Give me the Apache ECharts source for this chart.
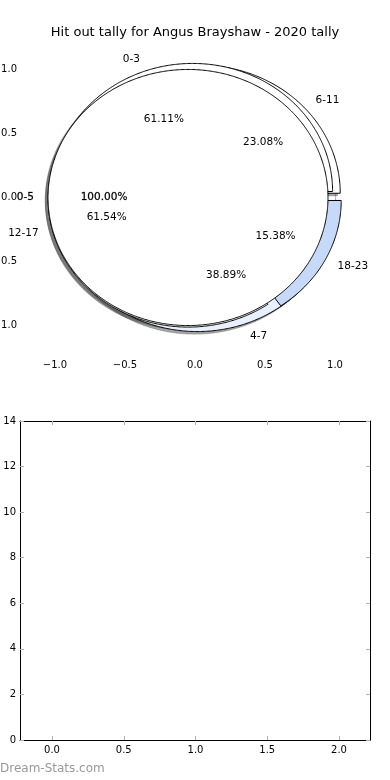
<!DOCTYPE html>
<html>
<head>
<meta charset="utf-8">
<script src="https://cdn.jsdelivr.net/npm/echarts@6/dist/echarts.min.js"></script>
<style>html,body{margin:0;padding:0;background:#fff}#c{width:390px;height:780px}</style>
</head>
<body>
<div id="c"></div>
<script>
// ---- data ----
const titleText = 'Hit out tally for Angus Brayshaw - 2020 tally';
const pieALabels = ['0-3', '4-7'];
const pieAValues = [61.11, 38.89];
const pieBLabels = ['6-11', '12-17', '18-23'];
const pieBValues = [23.08, 61.54, 15.38];
const pieCLabels = ['0-5'];
const pieCValues = [100.00];
const pieTicks = [-1.0, -0.5, 0.0, 0.5, 1.0];
const barYTicks = [0, 2, 4, 6, 8, 10, 12, 14];
const barXTicks = [0.0, 0.5, 1.0, 1.5, 2.0];
const watermark = 'Dream-Stats.com';

// ---- styles ----
const pieColors = {
  '0-3': '#ffffff', '4-7': '#e8effd',
  '6-11': '#ffffff', '12-17': '#ffffff', '18-23': '#c6d9f8',
  '0-5': '#ffffff'
};
const drawOrder = ['6-11', '0-3', '4-7', '12-17', '18-23', '0-5'];
const EXPLODE = 0.05, LABEL_D = 1.1, PCT_D = 0.6, SHADOW_OFF = -0.02;
const FONT = 'DejaVu Sans';

// build wedges from the values
const pies = [[pieALabels, pieAValues], [pieBLabels, pieBValues], [pieCLabels, pieCValues]];
const wedgeByLabel = {};
pies.forEach(([labels, values]) => {
  const total = values.reduce((a, b) => a + b, 0);
  let start = 0;
  values.forEach((v, si) => {
    const sweep = 360 * v / total;
    const mid = (start + sweep / 2) * Math.PI / 180;
    wedgeByLabel[labels[si]] = {
      a0: start, a1: start + sweep, mid,
      cx: EXPLODE * Math.cos(mid), cy: EXPLODE * Math.sin(mid),
      label: labels[si], pct: (100 * v / total).toFixed(2) + '%',
      color: pieColors[labels[si]], full: sweep >= 359.999
    };
    start += sweep;
  });
});
const wedges = drawOrder.map(l => wedgeByLabel[l]);

function wedgePoints(api, w, ox, oy) {
  const pts = [];
  if (!w.full) pts.push(api.coord([w.cx + ox, w.cy + oy]));
  const n = Math.max(2, Math.ceil((w.a1 - w.a0) / 0.5));
  for (let i = 0; i <= n; i++) {
    const a = (w.a0 + (w.a1 - w.a0) * i / n) * Math.PI / 180;
    pts.push(api.coord([w.cx + ox + Math.cos(a), w.cy + oy + Math.sin(a)]));
  }
  return pts;
}

const wedgeIdx = wedges.map((w, i) => [i]);
const fmt1 = v => (v < 0 ? '\u2212' : '') + Math.abs(v).toFixed(1);

const tickStyle = {show: true, inside: true, length: 4, lineStyle: {color: '#b0b0b0', width: 1}};
const lblStyle = {color: '#000', fontFamily: FONT, fontSize: 10};

function valAxis(opts) {
  return Object.assign({type: 'value', splitLine: {show: false}}, opts);
}
const frameLine = {show: true, onZero: false, lineStyle: {color: '#000', width: 1}};

const chart = echarts.init(document.getElementById('c'), null, {renderer: 'canvas'});
chart.setOption({
  animation: false,
  backgroundColor: '#fff',
  title: {
    text: titleText, left: 'center', top: 21,
    textStyle: {fontFamily: FONT, fontSize: 13, fontWeight: 'normal', color: '#000'}
  },
  graphic: [{
    type: 'text', left: 0, top: 763,
    style: {text: watermark, fill: '#999', fontFamily: FONT, fontSize: 12}
  }],
  grid: [
    {left: 20, top: 40, width: 350, height: 315, containLabel: false, outerBoundsMode: 'none'},
    {left: 20, top: 421, width: 350, height: 319, containLabel: false, outerBoundsMode: 'none'}
  ],
  xAxis: [
    valAxis({gridIndex: 0, position: 'bottom', min: -1.25, max: 1.25,
      axisLine: {show: false}, axisTick: Object.assign({customValues: pieTicks}, tickStyle),
      axisLabel: Object.assign({customValues: pieTicks, formatter: fmt1, margin: 5}, lblStyle)}),
    valAxis({gridIndex: 0, position: 'top', min: -1.25, max: 1.25,
      axisLine: {show: false}, axisTick: Object.assign({customValues: pieTicks}, tickStyle),
      axisLabel: {show: false}}),
    valAxis({gridIndex: 1, position: 'bottom', min: -0.223, max: 2.216,
      axisLine: frameLine,
      axisTick: Object.assign({customValues: barXTicks}, tickStyle),
      axisLabel: Object.assign({customValues: barXTicks, formatter: fmt1, margin: 5}, lblStyle)}),
    valAxis({gridIndex: 1, position: 'top', min: -0.223, max: 2.216,
      axisLine: frameLine,
      axisTick: Object.assign({customValues: barXTicks}, tickStyle),
      axisLabel: {show: false}})
  ],
  yAxis: [
    valAxis({gridIndex: 0, position: 'left', min: -1.23, max: 1.23,
      axisLine: {show: false}, axisTick: Object.assign({customValues: pieTicks}, tickStyle),
      axisLabel: Object.assign({customValues: pieTicks, formatter: fmt1, margin: 3}, lblStyle)}),
    valAxis({gridIndex: 0, position: 'right', min: -1.23, max: 1.23,
      axisLine: {show: false}, axisTick: Object.assign({customValues: pieTicks}, tickStyle),
      axisLabel: {show: false}}),
    valAxis({gridIndex: 1, position: 'left', min: 0, max: 14,
      axisLine: frameLine,
      axisTick: Object.assign({customValues: barYTicks}, tickStyle),
      axisLabel: Object.assign({customValues: barYTicks, margin: 4}, lblStyle)}),
    valAxis({gridIndex: 1, position: 'right', min: 0, max: 14,
      axisLine: frameLine,
      axisTick: Object.assign({customValues: barYTicks}, tickStyle),
      axisLabel: {show: false}})
  ],
  series: [
    { // shadows
      type: 'custom', xAxisIndex: 0, yAxisIndex: 0, data: wedgeIdx, z: 1, silent: true,
      renderItem: (params, api) => {
        const w = wedges[params.dataIndex];
        return {type: 'polygon', shape: {points: wedgePoints(api, w, SHADOW_OFF, SHADOW_OFF)},
          style: {fill: 'rgba(77,77,77,0.5)', stroke: 'rgba(77,77,77,0.35)', lineWidth: 1}};
      }
    },
    { // wedges
      type: 'custom', xAxisIndex: 0, yAxisIndex: 0, data: wedgeIdx, z: 2, silent: true,
      renderItem: (params, api) => {
        const w = wedges[params.dataIndex];
        return {type: 'polygon', shape: {points: wedgePoints(api, w, 0, 0)},
          style: {fill: w.color, stroke: '#000', lineWidth: 1, lineJoin: 'miter'}};
      }
    },
    { // texts
      type: 'custom', xAxisIndex: 0, yAxisIndex: 0, data: wedgeIdx, z: 3, silent: true,
      renderItem: (params, api) => {
        const w = wedges[params.dataIndex];
        const lx = w.cx + LABEL_D * Math.cos(w.mid), ly = w.cy + LABEL_D * Math.sin(w.mid);
        const px = w.cx + PCT_D * Math.cos(w.mid), py = w.cy + PCT_D * Math.sin(w.mid);
        const lp = api.coord([lx, ly]), pp = api.coord([px, py]);
        const heavy = w.full ? {stroke: 'rgba(0,0,0,0.6)', lineWidth: 0.4} : {};
        return {type: 'group', children: [
          {type: 'text', x: lp[0], y: lp[1], style: Object.assign({text: w.label, fill: '#000',
            fontFamily: FONT, fontSize: 10.5, align: lx > 0 ? 'left' : 'right', verticalAlign: 'middle'}, heavy)},
          {type: 'text', x: pp[0], y: pp[1], style: Object.assign({text: w.pct, fill: '#000',
            fontFamily: FONT, fontSize: 10.5, align: 'center', verticalAlign: 'middle'}, heavy)}
        ]};
      }
    },
    { // empty lower axes
      type: 'line', xAxisIndex: 2, yAxisIndex: 2, data: [], silent: true
    }
  ]
});
</script>
</body>
</html>
